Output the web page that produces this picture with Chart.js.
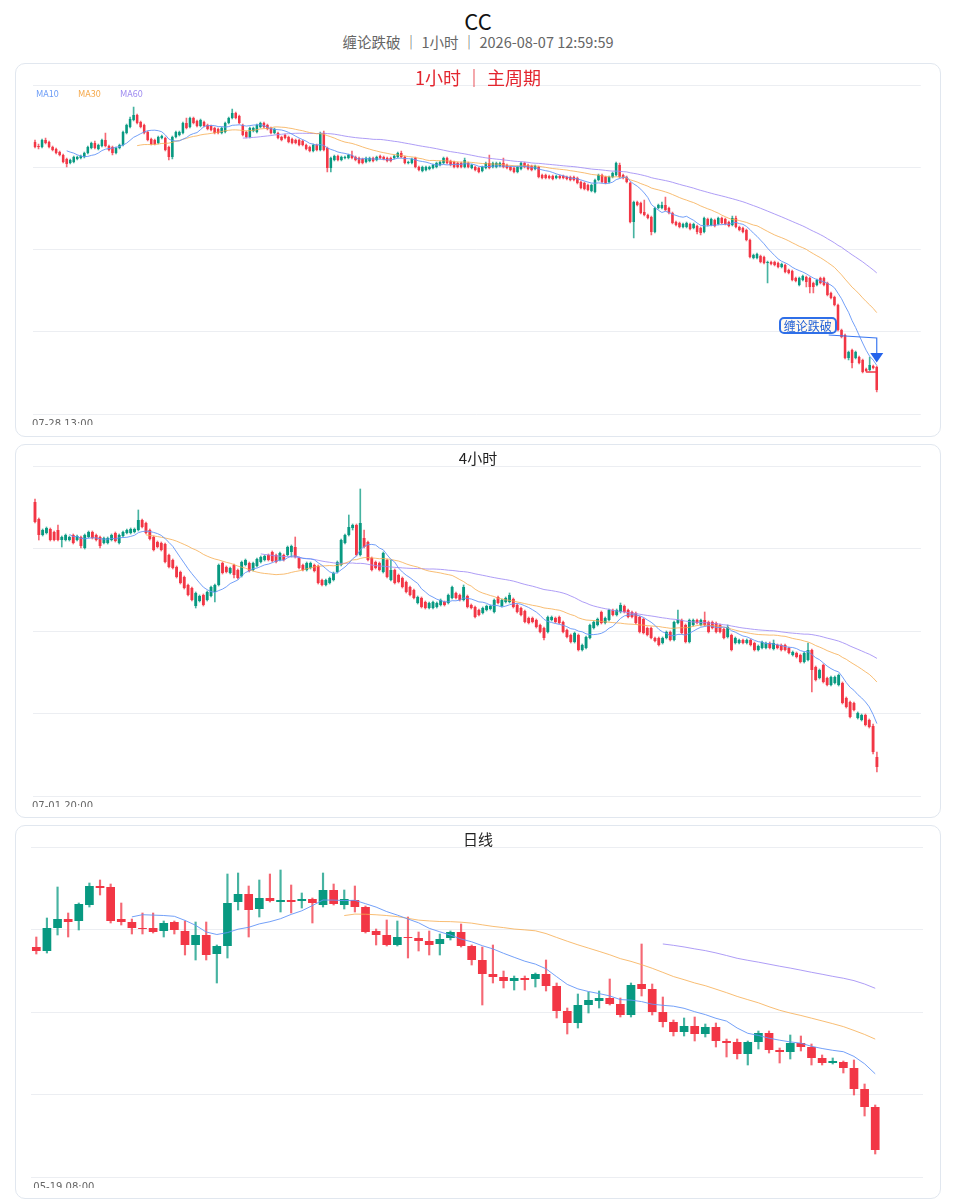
<!DOCTYPE html>
<html><head><meta charset="utf-8">
<script src="https://cdn.jsdelivr.net/npm/chart.js@4.4.1/dist/chart.umd.min.js"></script>
<style>
html,body{margin:0;padding:0;background:#fff;}
#root{position:relative;width:956px;height:1200px;overflow:hidden;font-family:'Noto Sans CJK SC','Noto Sans',sans-serif;}
.title{position:absolute;left:0;width:956px;text-align:center;white-space:nowrap;}
.card{position:absolute;left:15px;width:926px;box-sizing:border-box;border:1px solid #e1e7ef;border-radius:10px;background:#fff;}
.wrap{position:absolute;left:31px;width:892px;overflow:hidden;}
.ptitle{position:absolute;left:15px;width:926px;text-align:center;white-space:nowrap;}
.leg{position:absolute;top:88px;font-size:9px;line-height:11px;font-family:'Noto Sans CJK SC',sans-serif;}
#sigbox{position:absolute;box-sizing:border-box;width:58px;height:17px;border:2px solid #2f6fe8;border-radius:5px;background:#fffaf0;color:#1f5fd6;font-size:12px;line-height:13px;text-align:center;white-space:nowrap;}
</style></head>
<body>
<div id="root">
  <div class="title" style="top:7px;font-size:22px;line-height:26px;color:#111;">CC</div>
  <div class="title" style="top:33px;font-size:14.5px;line-height:18px;color:#666;">缠论跌破 ｜ 1小时 ｜ 2026-08-07 12:59:59</div>

  <div class="card" style="top:63px;height:374px;"></div>
  <div class="card" style="top:444px;height:374px;"></div>
  <div class="card" style="top:825px;height:374px;"></div>

  <div class="wrap" style="top:80px;height:345px;"><canvas id="c1" width="892" height="350"></canvas></div>
  <div class="wrap" style="top:461px;height:346px;"><canvas id="c2" width="892" height="351"></canvas></div>
  <div class="wrap" style="top:842px;height:346px;"><canvas id="c3" width="892" height="351"></canvas></div>

  <div class="ptitle" style="top:66px;font-size:18px;line-height:22px;color:#e3262f;">1小时 ｜ 主周期</div>
  <div class="ptitle" style="top:448px;font-size:15px;line-height:20px;color:#222;">4小时</div>
  <div class="ptitle" style="top:829px;font-size:15px;line-height:20px;color:#222;">日线</div>

  <span class="leg" style="left:36px;color:#6b9cf7;">MA10</span>
  <span class="leg" style="left:78px;color:#f5a84a;">MA30</span>
  <span class="leg" style="left:120px;color:#9d8af0;">MA60</span>
  <div id="sigbox">缠论跌破</div>
</div>
<script>
// Prices are in units of 0.0001 USDT.
// ---------- 1 hour (main period) ----------
const open1 = [1458,1454,1453,1460,1458,1453,1451,1448,1445,1441,1437,1438,1441,1442,1443,1447,1452,1457,1451,1454,
1460,1454,1453,1447,1452,1455,1467,1473,1480,1485,1478,1475,1468,1461,1460,1457,1462,1462,1453,1443,
1463,1465,1467,1477,1473,1482,1479,1474,1478,1475,1474,1472,1471,1467,1468,1477,1482,1487,1484,1475,
1468,1463,1469,1468,1473,1477,1475,1472,1467,1467,1463,1465,1463,1461,1460,1460,1459,1455,1453,1449,
1455,1450,1467,1452,1432,1440,1444,1440,1442,1442,1445,1443,1442,1441,1438,1439,1442,1440,1444,1443,
1442,1442,1442,1443,1447,1443,1437,1437,1442,1433,1429,1430,1431,1432,1433,1435,1437,1442,1439,1438,
1437,1437,1433,1437,1432,1433,1432,1429,1432,1437,1433,1433,1434,1437,1435,1433,1432,1428,1431,1437,
1435,1434,1431,1433,1425,1425,1424,1424,1422,1424,1424,1423,1423,1423,1422,1418,1417,1415,1409,1408,
1420,1425,1423,1418,1423,1425,1435,1425,1423,1417,1378,1398,1397,1388,1385,1383,1368,1392,1392,1395,
1392,1387,1378,1377,1373,1373,1376,1372,1374,1372,1368,1381,1375,1380,1376,1382,1381,1378,1375,1382,
1373,1372,1370,1360,1342,1342,1344,1343,1337,1338,1338,1337,1333,1335,1330,1329,1322,1315,1320,1323,
1322,1317,1315,1322,1322,1317,1307,1303,1295,1270,1265,1242,1250,1242,1243,1240,1231,1230,1234,1233];
const high1 = [1460,1456,1461,1462,1459,1454,1452,1449,1446,1442,1441,1444,1444,1445,1448,1454,1458,1459,1456,1461,
1467,1455,1454,1453,1456,1469,1476,1483,1493,1486,1479,1476,1469,1462,1461,1464,1465,1463,1454,1464,
1469,1469,1478,1482,1483,1483,1480,1481,1479,1476,1475,1473,1472,1473,1478,1483,1491,1488,1485,1476,
1469,1473,1473,1476,1478,1478,1476,1473,1472,1468,1464,1466,1464,1462,1461,1461,1460,1456,1454,1456,
1456,1468,1469,1453,1443,1445,1445,1444,1444,1446,1449,1444,1443,1442,1443,1443,1443,1444,1445,1444,
1443,1443,1445,1448,1449,1444,1439,1442,1443,1434,1434,1434,1434,1436,1438,1439,1443,1443,1440,1439,
1438,1438,1442,1438,1436,1434,1433,1434,1438,1445,1438,1438,1438,1442,1436,1434,1433,1434,1438,1438,
1436,1435,1435,1434,1426,1426,1425,1425,1425,1425,1425,1424,1424,1424,1423,1419,1418,1416,1416,1421,
1426,1426,1424,1424,1428,1438,1437,1426,1424,1418,1399,1399,1398,1400,1386,1384,1393,1396,1398,1403,
1393,1388,1379,1378,1377,1378,1377,1377,1375,1373,1383,1382,1382,1381,1383,1383,1382,1379,1384,1384,
1374,1373,1371,1361,1346,1347,1345,1344,1339,1339,1339,1338,1337,1336,1331,1330,1323,1323,1325,1324,
1323,1318,1321,1323,1323,1318,1308,1304,1296,1271,1266,1249,1251,1249,1244,1241,1232,1243,1235,1234];
const low1 = [1452,1451,1452,1456,1452,1449,1446,1444,1437,1433,1436,1437,1440,1441,1442,1446,1451,1451,1450,1453,
1453,1449,1445,1446,1451,1454,1466,1472,1479,1476,1472,1466,1459,1455,1455,1456,1461,1449,1440,1441,
1462,1464,1466,1471,1472,1476,1473,1473,1473,1470,1469,1466,1466,1466,1467,1476,1481,1481,1476,1464,
1462,1462,1468,1467,1472,1472,1470,1466,1466,1461,1459,1461,1457,1456,1456,1454,1454,1450,1448,1448,
1449,1449,1449,1428,1428,1439,1439,1439,1441,1441,1441,1439,1436,1436,1437,1438,1438,1439,1441,1440,
1438,1438,1441,1442,1442,1436,1436,1436,1432,1429,1428,1429,1430,1431,1432,1434,1436,1436,1434,1432,
1432,1432,1432,1432,1431,1429,1427,1428,1431,1431,1432,1432,1433,1432,1431,1429,1427,1427,1430,1432,
1430,1429,1430,1422,1421,1421,1421,1420,1421,1421,1421,1420,1419,1419,1416,1411,1410,1409,1408,1407,
1419,1417,1416,1417,1422,1424,1422,1421,1417,1377,1362,1394,1386,1384,1381,1365,1367,1391,1391,1389,
1386,1376,1374,1372,1372,1372,1370,1371,1366,1365,1367,1374,1374,1373,1375,1376,1375,1373,1374,1372,
1369,1367,1359,1342,1341,1341,1337,1336,1317,1335,1334,1332,1332,1327,1326,1319,1318,1314,1319,1313,
1307,1307,1314,1316,1314,1304,1301,1294,1269,1262,1241,1240,1232,1241,1236,1227,1228,1229,1231,1208];
const close1 = [1453,1453,1460,1457,1453,1450,1447,1445,1438,1436,1440,1443,1443,1444,1447,1453,1457,1452,1455,1460,
1454,1450,1447,1452,1455,1468,1475,1481,1485,1477,1473,1467,1460,1456,1456,1463,1464,1450,1443,1463,
1468,1468,1477,1472,1482,1477,1474,1480,1474,1471,1470,1467,1467,1472,1477,1482,1487,1482,1477,1465,
1463,1472,1472,1475,1477,1473,1471,1467,1471,1462,1460,1462,1458,1457,1457,1455,1455,1451,1449,1455,
1450,1467,1450,1432,1442,1444,1440,1443,1443,1445,1442,1440,1437,1437,1442,1442,1439,1443,1442,1441,
1439,1439,1444,1447,1443,1437,1438,1441,1433,1430,1433,1433,1433,1435,1437,1438,1442,1437,1435,1433,
1433,1433,1440,1433,1435,1430,1428,1433,1437,1432,1437,1437,1437,1433,1432,1430,1428,1433,1437,1433,
1431,1430,1434,1423,1422,1422,1422,1421,1424,1422,1422,1421,1420,1420,1417,1412,1411,1410,1415,1420,
1425,1418,1417,1423,1427,1437,1423,1422,1418,1378,1398,1395,1387,1385,1382,1368,1392,1395,1395,1390,
1387,1377,1375,1373,1376,1377,1371,1376,1368,1367,1382,1375,1381,1374,1382,1377,1376,1374,1382,1373,
1370,1368,1360,1343,1345,1346,1338,1337,1338,1336,1335,1333,1336,1328,1327,1320,1319,1322,1324,1318,
1313,1313,1320,1317,1315,1305,1302,1295,1270,1263,1242,1248,1237,1248,1237,1228,1229,1235,1232,1210];

// ---------- 4 hour ----------
const open2 = [1740,1706,1674,1678,1686,1680,1684,1664,1664,1664,1674,1664,1670,1648,1670,1680,1674,1670,1658,1658,
1664,1678,1658,1672,1678,1678,1680,1684,1704,1698,1684,1670,1660,1658,1656,1634,1624,1610,1600,1590,
1574,1568,1532,1542,1554,1544,1552,1560,1574,1618,1610,1598,1614,1604,1592,1614,1618,1604,1612,1620,
1624,1634,1640,1634,1624,1634,1634,1640,1650,1628,1614,1604,1608,1614,1612,1584,1574,1578,1584,1600,
1614,1658,1674,1688,1694,1634,1668,1660,1628,1620,1618,1600,1624,1584,1604,1594,1588,1580,1570,1564,
1538,1548,1540,1528,1528,1530,1534,1540,1538,1548,1558,1554,1544,1552,1534,1530,1524,1518,1524,1526,
1520,1550,1532,1540,1540,1546,1534,1528,1522,1508,1508,1504,1494,1488,1480,1504,1508,1510,1500,1484,
1474,1460,1474,1444,1448,1468,1488,1494,1520,1498,1504,1524,1514,1520,1532,1524,1520,1518,1510,1506,
1488,1488,1468,1468,1458,1468,1480,1464,1498,1504,1494,1460,1494,1504,1494,1504,1500,1500,1498,1494,
1486,1470,1474,1458,1458,1464,1458,1464,1458,1444,1448,1448,1458,1446,1454,1454,1454,1448,1434,1438,
1434,1420,1424,1444,1410,1388,1414,1388,1374,1378,1374,1378,1348,1340,1338,1308,1304,1314,1304,1292,1230];
const high2 = [1746,1708,1686,1690,1688,1682,1694,1672,1676,1672,1676,1674,1672,1676,1682,1682,1676,1672,1670,1670,
1676,1680,1676,1682,1686,1688,1688,1724,1706,1700,1686,1672,1662,1660,1658,1636,1626,1612,1602,1592,
1576,1570,1560,1554,1556,1562,1572,1576,1616,1620,1612,1610,1616,1606,1622,1626,1620,1620,1628,1632,
1634,1636,1642,1636,1640,1636,1652,1654,1670,1630,1616,1620,1620,1616,1614,1586,1586,1590,1600,1622,
1666,1676,1714,1696,1696,1766,1684,1662,1630,1622,1620,1640,1626,1624,1606,1596,1590,1582,1572,1566,
1552,1550,1542,1540,1542,1540,1546,1542,1556,1572,1560,1556,1574,1554,1536,1532,1526,1530,1534,1534,
1546,1552,1546,1550,1558,1548,1536,1530,1524,1510,1510,1506,1496,1490,1512,1512,1510,1512,1502,1486,
1476,1480,1476,1456,1472,1496,1502,1508,1522,1510,1526,1526,1526,1538,1534,1526,1522,1520,1512,1508,
1490,1490,1470,1470,1470,1482,1482,1502,1524,1506,1496,1506,1506,1506,1506,1520,1502,1502,1500,1496,
1488,1494,1476,1470,1466,1466,1466,1466,1460,1454,1462,1460,1460,1464,1456,1456,1456,1450,1442,1440,
1436,1440,1458,1446,1412,1406,1416,1390,1392,1392,1396,1380,1350,1342,1340,1320,1316,1316,1306,1296,1240];
const low2 = [1698,1664,1672,1676,1662,1662,1662,1650,1662,1662,1656,1662,1648,1646,1668,1666,1662,1648,1656,1656,
1662,1660,1656,1670,1676,1676,1678,1682,1688,1676,1664,1642,1648,1642,1618,1608,1606,1588,1576,1566,
1552,1542,1528,1540,1532,1542,1550,1540,1572,1596,1598,1596,1588,1586,1590,1612,1600,1602,1610,1618,
1622,1622,1620,1618,1622,1622,1632,1630,1628,1606,1602,1602,1606,1600,1576,1572,1572,1576,1582,1598,
1612,1656,1672,1684,1632,1632,1648,1622,1602,1606,1602,1598,1588,1582,1576,1578,1568,1558,1552,1546,
1536,1528,1526,1526,1526,1528,1532,1532,1536,1546,1546,1542,1542,1528,1526,1508,1512,1516,1522,1524,
1518,1536,1530,1538,1538,1528,1518,1512,1498,1496,1498,1488,1478,1464,1478,1502,1498,1496,1478,1468,
1458,1458,1442,1442,1446,1466,1486,1492,1496,1496,1502,1512,1512,1518,1518,1508,1508,1496,1478,1476,
1472,1466,1460,1452,1456,1466,1462,1462,1496,1476,1458,1458,1492,1496,1492,1492,1478,1486,1478,1478,
1466,1468,1442,1456,1456,1456,1456,1452,1442,1442,1446,1446,1446,1444,1446,1442,1442,1436,1432,1428,
1418,1418,1422,1360,1382,1386,1378,1372,1372,1376,1372,1336,1328,1308,1322,1306,1302,1292,1288,1236,1200];
const close2 = [1700,1674,1684,1688,1664,1664,1664,1670,1674,1670,1658,1672,1652,1674,1680,1668,1664,1652,1668,1668,
1674,1662,1674,1680,1684,1686,1686,1704,1690,1678,1666,1644,1650,1644,1620,1610,1608,1590,1578,1568,
1554,1544,1558,1552,1534,1560,1570,1574,1614,1598,1600,1608,1594,1588,1620,1624,1602,1618,1626,1630,
1632,1624,1622,1620,1638,1624,1650,1652,1630,1608,1604,1618,1618,1602,1578,1574,1584,1588,1598,1620,
1664,1674,1690,1694,1634,1698,1650,1624,1604,1608,1604,1638,1590,1604,1578,1580,1570,1560,1554,1548,
1550,1530,1528,1538,1540,1538,1544,1534,1554,1570,1548,1544,1570,1530,1528,1510,1514,1528,1532,1532,
1544,1538,1544,1548,1554,1530,1520,1514,1500,1498,1500,1490,1480,1468,1510,1510,1500,1498,1480,1470,
1460,1478,1444,1454,1470,1494,1500,1506,1498,1508,1524,1514,1524,1534,1520,1510,1510,1498,1480,1478,
1474,1468,1462,1454,1468,1480,1464,1500,1504,1478,1460,1504,1504,1498,1504,1494,1480,1488,1480,1480,
1468,1490,1444,1468,1464,1458,1464,1454,1444,1452,1460,1458,1448,1458,1448,1444,1444,1438,1440,1430,
1420,1438,1444,1404,1384,1404,1380,1374,1390,1390,1394,1338,1330,1310,1324,1318,1314,1294,1290,1240,1210];

// ---------- daily ----------
const open3 = [1819,1807,1876,1903,1897,1945,2002,1999,1903,1894,1876,1876,1867,1894,1867,1825,1855,1798,1822,1954,
1978,1933,1966,1954,1960,1957,1963,1945,1990,1945,1960,1939,1867,1855,1825,1849,1846,1837,1828,1846,
1864,1822,1780,1738,1729,1717,1726,1723,1738,1702,1627,1591,1645,1657,1666,1648,1615,1708,1693,1624,
1594,1564,1582,1558,1579,1537,1534,1498,1534,1561,1510,1504,1531,1519,1486,1471,1474,1456,1393,1339];
const high3 = [1849,1906,1999,1921,1951,2011,2020,2008,1951,1903,1921,1921,1897,1897,1897,1894,1894,1825,2038,2041,
2002,2020,2038,2050,2005,1981,1966,2041,2008,1990,2002,1942,1873,1900,1897,1909,1864,1867,1858,1867,
1888,1825,1819,1825,1747,1732,1732,1741,1780,1711,1636,1678,1684,1687,1723,1666,1711,1828,1708,1669,
1600,1606,1609,1588,1591,1543,1543,1537,1567,1567,1516,1555,1552,1528,1495,1486,1477,1480,1408,1345];
const low3 = [1798,1801,1855,1849,1870,1939,1975,1891,1885,1858,1858,1861,1849,1858,1795,1780,1780,1711,1786,1930,
1849,1909,1954,1924,1921,1936,1891,1939,1945,1933,1924,1861,1825,1822,1822,1786,1807,1795,1795,1840,
1819,1765,1645,1711,1696,1690,1690,1699,1687,1606,1558,1576,1621,1636,1645,1609,1609,1672,1615,1579,
1552,1552,1537,1549,1519,1489,1483,1465,1513,1501,1471,1483,1507,1465,1465,1468,1441,1375,1312,1198];
const close3 = [1807,1876,1903,1894,1948,2002,1996,1897,1894,1876,1873,1864,1891,1870,1825,1855,1795,1822,1951,1978,
1930,1966,1957,1960,1954,1963,1951,1990,1948,1963,1939,1864,1855,1825,1849,1846,1837,1825,1843,1864,
1822,1780,1738,1729,1717,1726,1720,1738,1702,1627,1591,1645,1660,1666,1648,1615,1705,1693,1624,1594,
1564,1582,1558,1579,1537,1531,1498,1534,1561,1510,1504,1531,1519,1486,1471,1477,1456,1393,1339,1210];

// time axis definitions (first bar time, bar interval in hours)
const start1 = Date.UTC(2026, 6, 28, 13, 0), step1 = 1;
const start2 = Date.UTC(2026, 6, 1, 20, 0),  step2 = 4;
const start3 = Date.UTC(2026, 4, 19, 8, 0),  step3 = 24;
// y-range shown (bottom / top gridline) per panel
const yRange1 = [1186, 1515];
const yRange2 = [1152, 1812];
const yRange3 = [1129, 2119];
const maPeriods = [10, 30, 60];
// signal on the main period
const signalIndex1 = 239, signalPrice1 = 1238, signalText1 = '缠论跌破';
const breakLevel1 = 1228, breakFrom1 = 236, breakTo1 = 239;

const UP = '#089981', DOWN = '#f23645';
const UP_W = 'rgba(8,153,129,0.75)', DOWN_W = 'rgba(242,54,69,0.75)';
const MA_COLORS = ['rgba(100,150,247,0.9)', 'rgba(246,172,80,0.8)', 'rgba(160,140,245,0.85)'];
const GRID = '#eceef2';

function makeLabels(start, stepH, n, slots) {
  const p = v => String(v).padStart(2, '0');
  const out = [];
  for (let i = 0; i < slots; i++) {
    if (i >= n) { out.push(''); continue; }
    const d = new Date(start + i * stepH * 3600e3);
    out.push(p(d.getUTCMonth() + 1) + '-' + p(d.getUTCDate()) + ' ' + p(d.getUTCHours()) + ':' + p(d.getUTCMinutes()));
  }
  return out;
}
function sma(src, n) {
  const out = []; let s = 0;
  for (let i = 0; i < src.length; i++) {
    s += src[i]; if (i >= n) s -= src[i - n];
    out.push(i >= n - 1 ? s / n : null);
  }
  return out;
}

function buildChart(id, o, h, l, c, start, stepH, yr, bodyPct, wickW, extraDatasets, plugins) {
  const n = c.length;
  const slots = Math.round(n * 1.05);
  const labels = makeLabels(start, stepH, n, slots);
  const up = c.map((v, i) => v >= o[i]);
  const ds = [];
  maPeriods.forEach((p, k) => ds.push({
    type: 'line', data: sma(c, p), borderColor: MA_COLORS[k], borderWidth: 1,
    pointRadius: 0, tension: 0, spanGaps: false, order: 0
  }));
  (extraDatasets || []).forEach(d => ds.push(d));
  ds.push({
    type: 'bar', data: o.map((v, i) => [v, c[i]]), backgroundColor: up.map(u => u ? UP : DOWN),
    barPercentage: bodyPct, categoryPercentage: 1, grouped: false, minBarLength: 1, borderWidth: 0, order: 2
  });
  ds.push({
    type: 'bar', data: l.map((v, i) => [v, h[i]]), backgroundColor: up.map(u => u ? UP_W : DOWN_W),
    barThickness: wickW, grouped: false, borderWidth: 0, order: 3
  });
  return new Chart(document.getElementById(id), {
    type: 'bar',
    data: { labels, datasets: ds },
    options: {
      responsive: false, maintainAspectRatio: false, animation: false,
      layout: { padding: { top: 5, left: 0, right: 0, bottom: 0 } },
      plugins: { legend: { display: false }, tooltip: { enabled: false } },
      scales: {
        x: {
          type: 'category', offset: true,
          grid: { display: false, drawTicks: false }, border: { display: false },
          ticks: {
            autoSkip: false, maxRotation: 0, minRotation: 0, align: 'start', padding: 4, labelOffset: -3,
            color: '#666', font: { size: 10, family: 'DejaVu Sans' },
            callback: (v, i) => i === 0 ? labels[0] : ''
          },
          afterFit: s => { s.height = 16; }
        },
        y: {
          min: yr[0], max: yr[1],
          grid: { color: GRID, drawTicks: false, lineWidth: 1 },
          border: { display: false },
          ticks: { display: false },
          afterBuildTicks: s => { s.ticks = [0, 1, 2, 3, 4].map(k => ({ value: yr[0] + k * (yr[1] - yr[0]) / 4 })); },
          afterFit: s => { s.width = 0; }
        }
      }
    },
    plugins: plugins || []
  });
}

const signalPlugin = {
  id: 'signal',
  afterDatasetsDraw(chart) {
    const { ctx, scales: { x, y } } = chart;
    const px = x.getPixelForValue(signalIndex1);
    const py = y.getPixelForValue(signalPrice1);
    ctx.save();
    ctx.strokeStyle = '#3c78f0'; ctx.lineWidth = 1.2;
    ctx.beginPath(); ctx.moveTo(px - 48, py - 27); ctx.lineTo(px, py - 24); ctx.lineTo(px, py - 9); ctx.stroke();
    ctx.fillStyle = '#2563eb';
    ctx.beginPath(); ctx.moveTo(px - 6.5, py - 9); ctx.lineTo(px + 6.5, py - 9); ctx.lineTo(px, py + 0.5); ctx.closePath(); ctx.fill();
    ctx.restore();
  }
};

const breakData = close1.map((_, i) => (i >= breakFrom1 && i <= breakTo1) ? breakLevel1 : null);
const ch1 = buildChart('c1', open1, high1, low1, close1, start1, step1, yRange1, 0.72, 1,
  [{ type: 'line', data: breakData, borderColor: DOWN, borderWidth: 1.5, pointRadius: 0, spanGaps: false, order: 1 }],
  [signalPlugin]);
buildChart('c2', open2, high2, low2, close2, start2, step2, yRange2, 0.75, 1);
buildChart('c3', open3, high3, low3, close3, start3, step3, yRange3, 0.82, 1.5);

// place the signal label box (real text) using the chart's own scales
(function () {
  const px = ch1.scales.x.getPixelForValue(signalIndex1);
  const py = ch1.scales.y.getPixelForValue(signalPrice1);
  const box = document.getElementById('sigbox');
  box.textContent = signalText1;
  box.style.left = (31 + px - 98) + 'px';
  box.style.top = (80 + py - 45) + 'px';
})();
</script>
</body></html>
